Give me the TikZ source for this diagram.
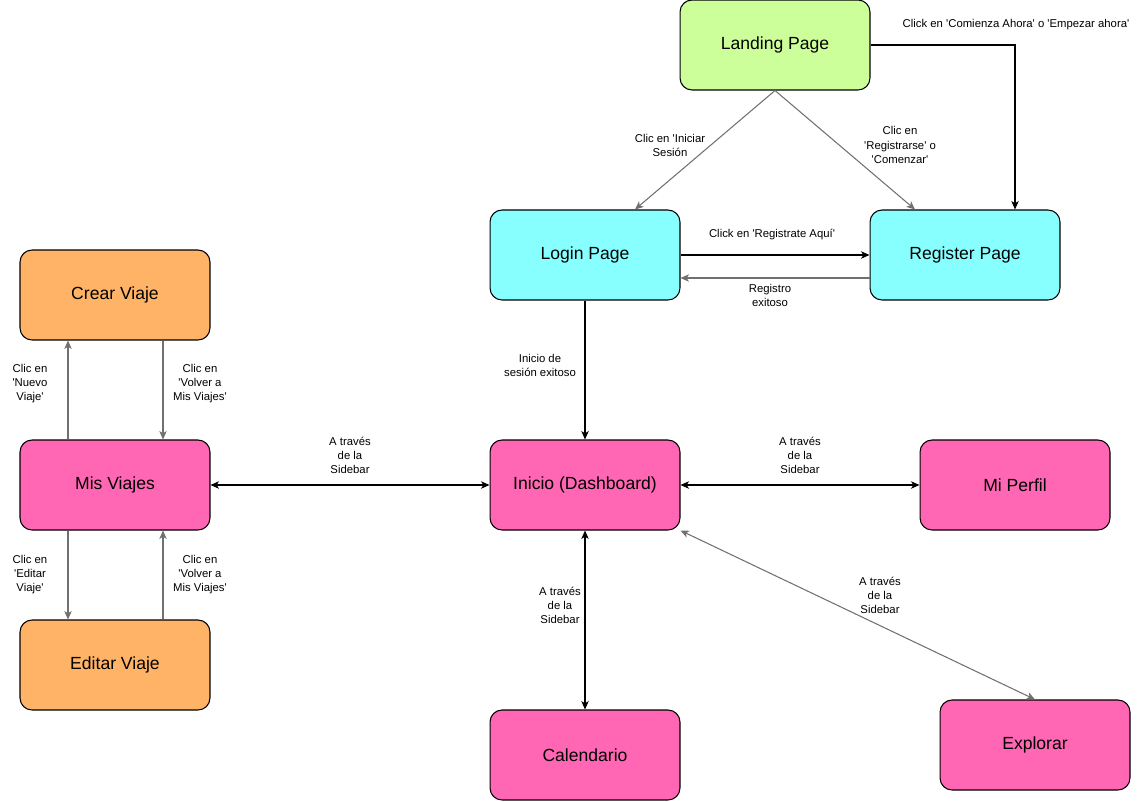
\documentclass[tikz,border=0pt]{standalone}
\usepackage{fontspec}
\setmainfont{Liberation Sans}
\usetikzlibrary{arrows.meta}
\usetikzlibrary{calc}

\definecolor{landinggreen}{HTML}{CCFF99}
\definecolor{authcyan}{HTML}{88FFFF}
\definecolor{triporange}{HTML}{FFB366}
\definecolor{mainpink}{HTML}{FF66B3}
\definecolor{linegray}{HTML}{707070}
\newcommand{\sq}{\textquotesingle}

\begin{document}
\begin{tikzpicture}[->,>={Stealth[length=4.8pt,width=4.2pt,inset=1.3pt]},x=0.02cm,y=-0.02cm,line width=0.6pt,
        page/.style={draw=black, rounded corners=0.24cm, minimum width=3.8cm,
            minimum height=1.8cm, font=\fontsize{10}{12}\selectfont, line width=0.6pt},
        lbl/.style={font=\fontsize{6.45}{8}\selectfont, align=center, inner sep=0pt},
        soft/.style={draw=linegray}]
        \useasboundingbox (0,0) rectangle (1145,801);
        % pages
        \node[page, fill=landinggreen] (landing) at (775,45) {Landing Page};
        \node[page, fill=authcyan] (login) at (585,255) {Login Page};
        \node[page, fill=authcyan] (register) at (965,255) {Register Page};
        \node[page, fill=triporange] (crear) at (115,295) {Crear Viaje};
        \node[page, fill=mainpink] (misviajes) at (115,485) {Mis Viajes};
        \node[page, fill=triporange] (editar) at (115,665) {Editar Viaje};
        \node[page, fill=mainpink] (inicio) at (585,485) {Inicio (Dashboard)};
        \node[page, fill=mainpink] (perfil) at (1015,485) {Mi Perfil};
        \node[page, fill=mainpink] (calendario) at (585,755) {Calendario};
        \node[page, fill=mainpink] (explorar) at (1035,745) {Explorar};

        % landing
        \draw[soft] (landing.south) -- ($(login.north)+(50,0)$);
        \draw[soft] (landing.south) -- ($(register.north)+(-50,0)$);
        \draw (landing.east) -| ($(register.north)+(50,0)$);
        \node[lbl] (l1) at (670,145) {Clic en \sq Iniciar\\Sesión};
        \node[lbl] (l2) at (900,145) {Clic en\\\sq Registrarse\sq{} o\\\sq Comenzar\sq};
        \node[lbl] (l3) at (1016,25) {Click en \sq Comienza Ahora\sq{} o \sq Empezar ahora\sq};

        % login / register
        \draw (login.east) -- (register.west);
        \draw[soft] ($(register.west)+(0,23)$) -- ($(login.east)+(0,23)$);
        \node[lbl] (l4) at (772,234) {Click en \sq Registrate Aquí\sq};
        \node[lbl] (l5) at (770,295) {Registro\\exitoso};
        \draw (login.south) -- (inicio.north);
        \node[lbl] (l6) at (540,365) {Inicio de\\sesión exitoso};

        % sidebar
        \draw[<->] (misviajes.east) -- (inicio.west);
        \node[lbl] (l7) at (350,455) {A través\\de la\\Sidebar};
        \draw[<->] (inicio.east) -- (perfil.west);
        \node[lbl] (l8) at (800,455) {A través\\de la\\Sidebar};
        \draw[<->] (inicio.south) -- (calendario.north);
        \node[lbl] (l9) at (560,605) {A través\\de la\\Sidebar};
        \draw[<->, soft] (inicio.south east) -- (explorar.north);
        \node[lbl] (l10) at (880,595) {A través\\de la\\Sidebar};

        % mis viajes
        \draw[soft] ($(misviajes.north)+(-47,0)$) -- ($(crear.south)+(-47,0)$);
        \node[lbl] (l11) at (30,384) {Clic en\\\sq Nuevo\\Viaje\sq};
        \draw[soft] ($(crear.south)+(48,0)$) -- ($(misviajes.north)+(48,0)$);
        \node[lbl] (l12) at (200,384) {Clic en\\\sq Volver a\\Mis Viajes\sq};
        \draw[soft] ($(misviajes.south)+(-47,0)$) -- ($(editar.north)+(-47,0)$);
        \node[lbl] (l13) at (30,575) {Clic en\\\sq Editar\\Viaje\sq};
        \draw[soft] ($(editar.north)+(48,0)$) -- ($(misviajes.south)+(48,0)$);
        \node[lbl] (l14) at (200,575) {Clic en\\\sq Volver a\\Mis Viajes\sq};
    \end{tikzpicture}
\end{document}
